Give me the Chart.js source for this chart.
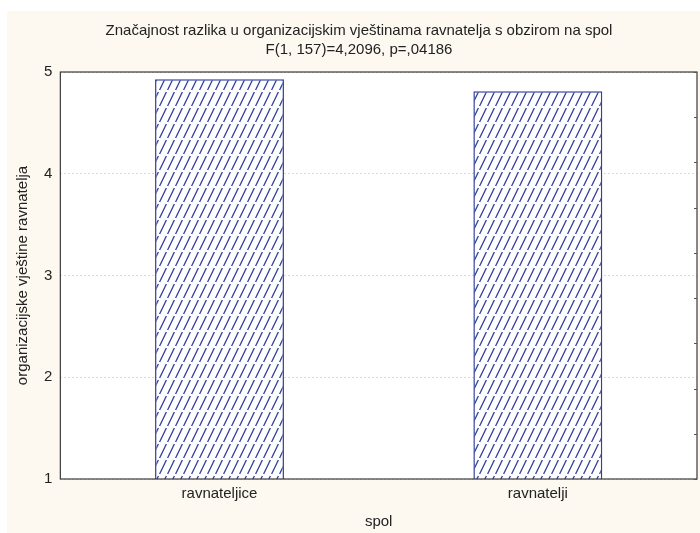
<!DOCTYPE html>
<html>
<head>
<meta charset="utf-8">
<script src="https://cdn.jsdelivr.net/npm/chart.js@4"></script>
<style>
  html, body { margin: 0; padding: 0; background: #fff; }
  #frame { position: absolute; left: 7px; top: 11px; width: 693px; height: 522px; background: #fdf9f1; }
  canvas { display: block; }
</style>
</head>
<body>
<div id="frame"><canvas id="chart" width="693" height="522"></canvas></div>
<script>
// --- Chart data ---
const chartTitle = ['Značajnost razlika u organizacijskim vještinama ravnatelja s obzirom na spol', 'F(1, 157)=4,2096, p=,04186'];
const categories = ['ravnateljice', 'ravnatelji'];
const meanScores = [4.93, 4.81];
const yTicks = [1, 2, 3, 4, 5];
const rightTicks = [0, 1, 2, 3, 4, 5, 6, 7, 8, 9]; // small inner ticks on the right frame
const xTitle = 'spol';
const yTitle = 'organizacijske vještine ravnatelja';

const barBlue = '#2f3f9c';
const textColor = '#222';
Chart.defaults.font.family = "Arial, 'Liberation Sans', sans-serif";

// --- Hatch fill for the bars (dashed "////" lines) ---
function makeHatch() {
    const tile = document.createElement('canvas');
    tile.width = 8;
    tile.height = 16;
    const c = tile.getContext('2d');
    c.fillStyle = '#fff';
    c.fillRect(0, 0, 8, 16);
    c.strokeStyle = barBlue;
    c.lineWidth = 1.3;
    c.beginPath();
    c.moveTo(0.6, 15);
    c.lineTo(7.4, 1);
    c.stroke();
    return c.createPattern(tile, 'repeat');
}

// --- White plot area, dark frame and inward right-hand ticks ---
const plotFrame = {
    id: 'plotFrame',
    afterLayout(chart) {
        // nudge the title a little right, as in the original figure
        chart.titleBlock.left += 11;
    },
    beforeDraw(chart) {
        const { ctx, chartArea: a } = chart;
        ctx.save();
        ctx.fillStyle = '#fff';
        ctx.fillRect(a.left, a.top, a.right - a.left, a.bottom - a.top);
        ctx.restore();
    },
    afterDraw(chart) {
        const { ctx, chartArea: a } = chart;
        ctx.save();
        ctx.strokeStyle = '#3a3a3a';
        ctx.lineWidth = 1.2;
        ctx.strokeRect(a.left, a.top, a.right - a.left, a.bottom - a.top);
        const s = chart.scales.y2;
        ctx.lineWidth = 1;
        ctx.strokeStyle = '#555';
        ctx.beginPath();
        s.ticks.forEach(t => {
            const py = Math.round(s.getPixelForValue(t.value)) + 0.5;
            ctx.moveTo(a.right - 3, py);
            ctx.lineTo(a.right, py);
        });
        ctx.stroke();
        ctx.restore();
    }
};

const canvas = document.getElementById('chart');

new Chart(canvas, {
    type: 'bar',
    data: {
        labels: categories,
        datasets: [{
            data: meanScores,
            backgroundColor: makeHatch(),
            borderColor: barBlue,
            borderWidth: 1.5,
            borderSkipped: false,
            categoryPercentage: 1,
            barPercentage: 0.405,
            yAxisID: 'y'
        }]
    },
    options: {
        responsive: false,
        animation: false,
        layout: { padding: { left: 3, right: 3, top: 0, bottom: 2 } },
        plugins: {
            legend: { display: false },
            tooltip: { enabled: false },
            title: {
                display: true,
                text: chartTitle,
                color: textColor,
                font: { size: 15, weight: 'normal', lineHeight: 1.267 },
                padding: { top: 10, bottom: 13 }
            }
        },
        scales: {
            x: {
                grid: { display: false, drawTicks: false },
                border: { display: false },
                ticks: { color: textColor, font: { size: 15 }, padding: 6 },
                title: { display: true, text: xTitle, color: textColor, font: { size: 15 }, padding: { top: 4, bottom: 0 } }
            },
            y: {
                min: yTicks[0],
                max: yTicks[yTicks.length - 1],
                afterBuildTicks: s => { s.ticks = yTicks.map(v => ({ value: v })); },
                grid: { color: '#d9d9d9', drawTicks: false },
                border: { display: false, dash: [2, 2] },
                ticks: { color: textColor, font: { size: 15 }, padding: 8 },
                title: { display: true, text: yTitle, color: textColor, font: { size: 15 } }
            },
            y2: {
                position: 'right',
                min: rightTicks[0],
                max: rightTicks[rightTicks.length - 1],
                afterBuildTicks: s => { s.ticks = rightTicks.map(v => ({ value: v })); },
                grid: { display: false, drawTicks: false },
                border: { display: false },
                ticks: { display: false }
            }
        }
    },
    plugins: [plotFrame]
});
</script>
</body>
</html>
